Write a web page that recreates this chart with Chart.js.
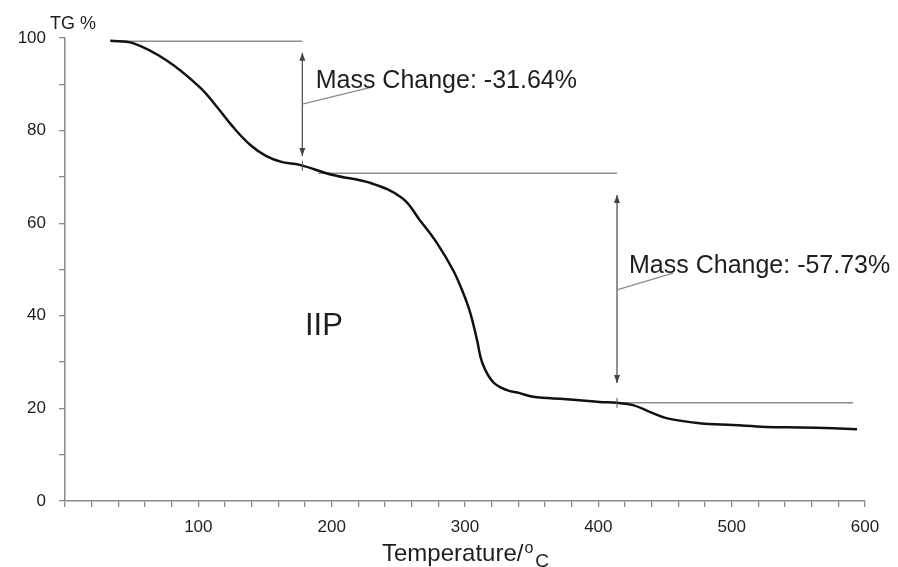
<!DOCTYPE html>
<html>
<head>
<meta charset="utf-8">
<script src="https://cdn.jsdelivr.net/npm/chart.js@4.4.1/dist/chart.umd.min.js"></script>
<style>
  html, body { margin: 0; padding: 0; background: #fff; }
  #wrap { width: 898px; height: 567px; }
</style>
</head>
<body>
<div id="wrap"><canvas id="tgChart" width="898" height="567"></canvas></div>
<script>
// TG curve (temperature in °C, mass in %)
const temps = [34, 51, 76, 101, 114, 126, 139, 151, 163, 176, 201, 229, 253, 266, 279, 291, 298, 304, 309, 313, 321, 331, 341, 351, 376, 401, 414, 426, 439, 451, 476, 501, 526, 551, 576, 594];
const mass = [99.4, 98.9, 95.2, 89.4, 85.1, 80.8, 76.9, 74.5, 73.2, 72.6, 70.4, 68.7, 65.4, 60.7, 55.7, 49.9, 45.4, 40.6, 34.8, 29.8, 25.7, 24.0, 23.3, 22.5, 22.0, 21.4, 21.2, 20.7, 19.2, 17.9, 16.8, 16.4, 16.0, 15.9, 15.7, 15.5];

// step levels of the mass change analysis
const stepLevels = [99.3, 70.8, 21.2];
const stepStart = [34, 190, 414];
const stepEnd = [178, 414, 591];

// double arrows: x, top, bottom
const arrowX = [178, 414];
const arrowTop = [96.8, 66.1];
const arrowBottom = [74.5, 25.5];

// leader lines from arrow to label
const leaderFrom = [[178, 85.7], [414, 45.6]];
const leaderTo = [[230, 89.4], [456, 49.2]];

// small marks on the curve where the steps are evaluated
const markX = [178, 414];
const markY = [72.4, 21.2];

const labelTexts = ['Mass Change: -31.64%', 'Mass Change: -57.73%', 'IIP'];
const labelX = [188, 423, 180];
const labelY = [89.2, 49.2, 35.9];

const xMin = 0, xMax = 600, xStep = 20;
const yMin = 0, yMax = 100, yStep = 10;

const FONT = '"Liberation Sans", Arial, sans-serif';
const TEXT = '#1e1e1e';
const AXIS = '#8a8a8a';

const curveData = temps.map((t, i) => ({ x: t, y: mass[i] }));
const stepSets = stepLevels.map((lv, i) => ({
    label: 'step' + (i + 1),
    data: [{ x: stepStart[i], y: lv }, { x: stepEnd[i], y: lv }],
    borderColor: '#8c8c8c',
    borderWidth: 1.5,
    pointRadius: 0,
    tension: 0
}));

const annotations = {
    id: 'annotations',
    afterDatasetsDraw(chart) {
        const ctx = chart.ctx;
        const xs = chart.scales.x, ys = chart.scales.y;
        const area = chart.chartArea;
        ctx.save();

        // arrows
        ctx.strokeStyle = '#555';
        ctx.fillStyle = '#444';
        ctx.lineWidth = 1.3;
        arrowX.forEach((ax, i) => {
            const px = xs.getPixelForValue(ax);
            const t = ys.getPixelForValue(arrowTop[i]);
            const b = ys.getPixelForValue(arrowBottom[i]);
            ctx.beginPath();
            ctx.moveTo(px, t);
            ctx.lineTo(px, b);
            ctx.stroke();
            [[t, 1], [b, -1]].forEach(([y, d]) => {
                ctx.beginPath();
                ctx.moveTo(px, y);
                ctx.lineTo(px - 3, y + 8 * d);
                ctx.lineTo(px + 3, y + 8 * d);
                ctx.closePath();
                ctx.fill();
            });
        });

        // leaders
        ctx.strokeStyle = '#8c8c8c';
        ctx.lineWidth = 1.3;
        leaderFrom.forEach((f, i) => {
            ctx.beginPath();
            ctx.moveTo(xs.getPixelForValue(f[0]), ys.getPixelForValue(f[1]));
            ctx.lineTo(xs.getPixelForValue(leaderTo[i][0]), ys.getPixelForValue(leaderTo[i][1]));
            ctx.stroke();
        });

        // marks on curve
        ctx.strokeStyle = '#555';
        ctx.lineWidth = 1;
        markX.forEach((mx, i) => {
            const px = xs.getPixelForValue(mx);
            const py = ys.getPixelForValue(markY[i]);
            ctx.beginPath();
            ctx.moveTo(px, py - 5);
            ctx.lineTo(px, py + 5);
            ctx.stroke();
        });

        // labels
        ctx.fillStyle = TEXT;
        ctx.textBaseline = 'alphabetic';
        ctx.textAlign = 'left';
        labelTexts.forEach((txt, i) => {
            ctx.font = (i === 2 ? 31 : 25) + 'px ' + FONT;
            ctx.fillText(txt, xs.getPixelForValue(labelX[i]), ys.getPixelForValue(labelY[i]));
        });

        // y axis title
        ctx.font = '18px ' + FONT;
        ctx.fillText('TG %', area.left - 15, area.top - 9);

        // x axis title with super/subscript
        let x = area.left + 317;
        ctx.font = '24px ' + FONT;
        ctx.fillText('Temperature/', x, 561);
        x += ctx.measureText('Temperature/').width + 1;
        ctx.font = '16px ' + FONT;
        ctx.fillText('o', x, 553);
        x += ctx.measureText('o').width + 2;
        ctx.font = '19px ' + FONT;
        ctx.fillText('C', x, 567);

        ctx.restore();
    }
};

new Chart(document.getElementById('tgChart').getContext('2d'), {
    type: 'line',
    data: {
        datasets: [{
            label: 'TG',
            data: curveData,
            borderColor: '#111',
            borderWidth: 2.5,
            pointRadius: 0,
            tension: 0.4
        }].concat(stepSets)
    },
    options: {
        responsive: false,
        animation: false,
        events: [],
        layout: {
            padding: { top: 38, right: 33, left: 0, bottom: 0 }
        },
        plugins: {
            legend: { display: false },
            tooltip: { enabled: false }
        },
        scales: {
            x: {
                type: 'linear',
                min: xMin,
                max: xMax,
                afterFit: (scale) => { scale.height = 66; },
                ticks: {
                    stepSize: xStep,
                    autoSkip: false,
                    maxRotation: 0,
                    padding: 10,
                    color: TEXT,
                    font: { family: FONT, size: 17 },
                    callback: (v) => (v % 100 === 0 && v !== 0) ? v : ''
                },
                grid: {
                    drawOnChartArea: false,
                    tickLength: 6,
                    color: AXIS,
                    lineWidth: 1.3
                },
                border: { color: AXIS, width: 1.5 }
            },
            y: {
                min: yMin,
                max: yMax,
                afterFit: (scale) => { scale.width = 65; },
                ticks: {
                    stepSize: yStep,
                    padding: 13,
                    color: TEXT,
                    font: { family: FONT, size: 17 },
                    callback: (v) => v % 20 === 0 ? v : ''
                },
                grid: {
                    drawOnChartArea: false,
                    tickLength: 6,
                    color: AXIS,
                    lineWidth: 1.3
                },
                border: { color: AXIS, width: 1.5 }
            }
        }
    },
    plugins: [annotations]
});
</script>
</body>
</html>
